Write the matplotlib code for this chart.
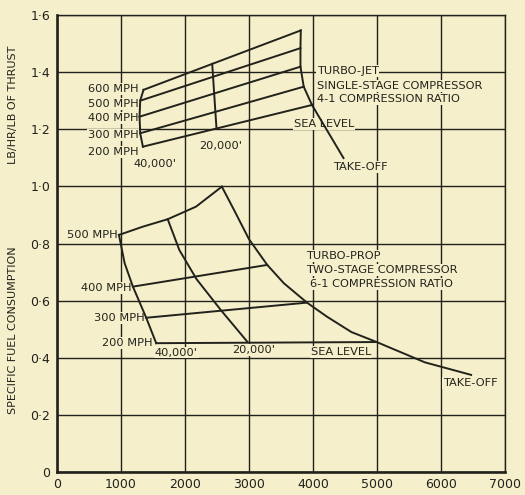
import matplotlib
matplotlib.use("Agg")
import matplotlib.pyplot as plt

# turbo-jet: speed lines between 40,000' and sea level
tj_speeds = ["600 MPH", "500 MPH", "400 MPH", "300 MPH", "200 MPH"]
tj_x_40k = [1352, 1300, 1290, 1300, 1342]
tj_y_40k = [1.338, 1.300, 1.244, 1.186, 1.139]
tj_x_sea = [3809, 3804, 3804, 3855, 3984]
tj_y_sea = [1.546, 1.484, 1.419, 1.349, 1.285]
tj_x_20k = [2425, 2492]
tj_y_20k = [1.429, 1.203]
tj_x_takeoff = [3984, 4477]
tj_y_takeoff = [1.285, 1.099]

# turbo-prop
tp_x_500 = [968, 1342, 1730, 2172, 2576]
tp_y_500 = [0.830, 0.859, 0.885, 0.929, 0.999]
tp_x_40k = [968, 1057, 1186, 1394, 1550]
tp_y_40k = [0.830, 0.731, 0.649, 0.540, 0.451]
tp_x_20k = [1730, 1912, 2181, 2560, 2974]
tp_y_20k = [0.885, 0.777, 0.675, 0.567, 0.456]
tp_x_sea = [2576, 2767, 3000, 3285, 3544, 3906, 4217, 4600, 4995, 5747, 6471]
tp_y_sea = [0.999, 0.917, 0.815, 0.725, 0.661, 0.593, 0.544, 0.490, 0.455, 0.384, 0.340]
tp_x_400 = [1186, 3285]
tp_y_400 = [0.649, 0.725]
tp_x_300 = [1394, 3906]
tp_y_300 = [0.540, 0.593]
tp_x_200 = [1550, 4995]
tp_y_200 = [0.451, 0.455]

x_ticks = [0, 1000, 2000, 3000, 4000, 5000, 6000, 7000]
y_ticks = [0, 0.2, 0.4, 0.6, 0.8, 1.0, 1.2, 1.4, 1.6]
y_labels = ["0", "0·2", "0·4", "0·6", "0·8", "1·0", "1·2", "1·4", "1·6"]

paper = "#f5efcb"
ink = "#22221c"
lw = 1.4

fig = plt.figure(figsize=(5.25, 4.95), dpi=100, facecolor=paper)
ax = fig.add_axes([57 / 525, 23 / 495, 448 / 525, 457 / 495])
ax.set_facecolor(paper)
ax.set_xlim(0, 7000)
ax.set_ylim(0, 1.6)
ax.set_xticks(x_ticks)
ax.set_yticks(y_ticks)
ax.set_yticklabels(y_labels)
ax.tick_params(length=0, colors=ink, labelsize=9)
ax.tick_params(axis="x", pad=4)
ax.tick_params(axis="y", pad=5)
ax.grid(True, color=ink, linewidth=1.0)
ax.set_axisbelow(True)
for name, sp in ax.spines.items():
    sp.set_color(ink)
    sp.set_zorder(5)
    sp.set_linewidth(1.9 if name in ("left", "bottom") else 1.0)

# turbo-jet curves
for i in range(len(tj_speeds)):
    ax.plot([tj_x_40k[i], tj_x_sea[i]], [tj_y_40k[i], tj_y_sea[i]], color=ink, lw=lw)
ax.plot(tj_x_40k, tj_y_40k, color=ink, lw=lw)
ax.plot(tj_x_sea, tj_y_sea, color=ink, lw=lw)
ax.plot(tj_x_20k, tj_y_20k, color=ink, lw=lw)
ax.plot(tj_x_takeoff, tj_y_takeoff, color=ink, lw=lw)

# turbo-prop curves
for xs, ys in [(tp_x_500, tp_y_500), (tp_x_40k, tp_y_40k), (tp_x_20k, tp_y_20k),
               (tp_x_sea, tp_y_sea), (tp_x_400, tp_y_400), (tp_x_300, tp_y_300),
               (tp_x_200, tp_y_200)]:
    ax.plot(xs, ys, color=ink, lw=lw)

# labels sit over the grid but under the curves
box = dict(facecolor=paper, edgecolor="none", pad=0.6)
fs = 8.2


def label(x, y, s, ha="left"):
    ax.text(x, y, s, ha=ha, va="center", fontsize=fs, color=ink, bbox=box, zorder=1.5)


# turbo-jet labels
for s, y in zip(tj_speeds, [1.341, 1.289, 1.240, 1.180, 1.120]):
    label(1270, y, s, ha="right")
label(1539, 1.078, "40,000'", ha="center")
label(2565, 1.141, "20,000'", ha="center")
label(4057, 1.404, "TURBO-JET")
label(4057, 1.352, "SINGLE-STAGE COMPRESSOR")
label(4057, 1.306, "4-1 COMPRESSION RATIO")
label(3700, 1.218, "SEA LEVEL")
label(4321, 1.068, "TAKE-OFF")

# turbo-prop labels
label(948, 0.830, "500 MPH", ha="right")
label(1166, 0.644, "400 MPH", ha="right")
label(1368, 0.539, "300 MPH", ha="right")
label(1492, 0.452, "200 MPH", ha="right")
label(1865, 0.418, "40,000'", ha="center")
label(3078, 0.427, "20,000'", ha="center")
label(3964, 0.421, "SEA LEVEL")
label(6031, 0.312, "TAKE-OFF")
label(3886, 0.756, "TURBO-PROP")
label(3886, 0.707, "TWO-STAGE COMPRESSOR")
label(3960, 0.658, "6-1 COMPRESSION RATIO")

fig.text(13 / 525, (495 - 330) / 495, "SPECIFIC FUEL CONSUMPTION", rotation=90,
         ha="center", va="center", fontsize=8, color=ink)
fig.text(13 / 525, (495 - 105) / 495, "LB/HR/LB OF THRUST", rotation=90,
         ha="center", va="center", fontsize=8, color=ink)

fig.savefig("out.png", dpi=100, facecolor=paper)
